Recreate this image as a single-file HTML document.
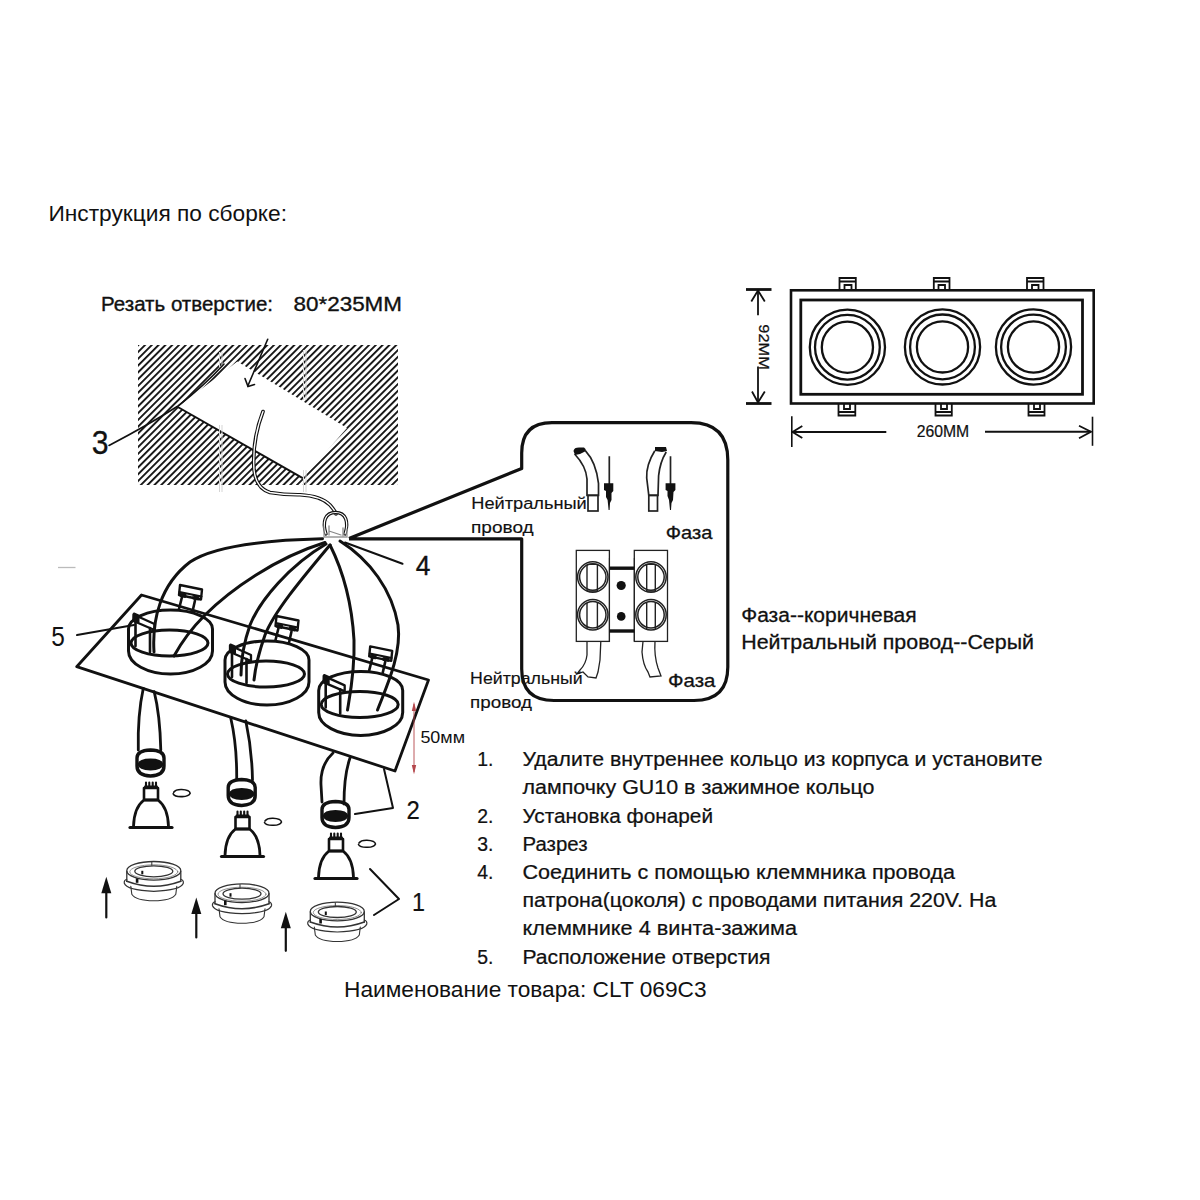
<!DOCTYPE html>
<html><head><meta charset="utf-8"><title>Инструкция</title>
<style>
html,body{margin:0;padding:0;background:#fff;}
body{width:1200px;height:1200px;overflow:hidden;}
svg{display:block;}
text{font-family:"Liberation Sans",sans-serif;fill:#111;}
</style></head><body>
<svg width="1200" height="1200" viewBox="0 0 1200 1200">
<defs>
<pattern id="hatch" patternUnits="userSpaceOnUse" width="4.8" height="20" patternTransform="rotate(45)">
<rect x="0" y="0" width="1.85" height="20" fill="#111"/>
</pattern>
<clipPath id="hclip"><rect x="138" y="345" width="260" height="140"/></clipPath>
</defs>
<rect width="1200" height="1200" fill="#fff"/>

<!-- ===== TEXTS ===== -->
<g id="texts">
<text x="48.5" y="221" font-size="22" textLength="238.5" lengthAdjust="spacingAndGlyphs">Инструкция по сборке:</text>
<text x="344" y="997.3" font-size="22" textLength="362.5" lengthAdjust="spacingAndGlyphs">Наименование товара: CLT 069C3</text>
<text x="101" y="310.8" font-size="20.5" textLength="172" lengthAdjust="spacingAndGlyphs" stroke="#111" stroke-width="0.35">Резать отверстие:</text>
<text x="293.5" y="310.8" font-size="20.5" textLength="108.5" lengthAdjust="spacingAndGlyphs" stroke="#111" stroke-width="0.35">80*235MM</text>
</g>

<!-- ===== HATCH + HOLE ===== -->
<g id="hatcharea">
<rect x="138" y="345" width="260" height="140" fill="url(#hatch)"/>
<polygon points="177.8,407 237.3,361.5 347,428 302.7,478.2" fill="#fff"/>
<line x1="177.8" y1="407" x2="302.7" y2="478.2" stroke="#111" stroke-width="2"/>
</g>



<g stroke="#d5d5d5" stroke-width="1" fill="none">
<path d="M219.5,352 L219.5,367 M222,352 L222,367"/>
<path d="M219.5,425 L219.5,492 M222,425 L222,492"/>
<path d="M303.5,350 L303.5,400 M306,350 L306,400"/>
<path d="M303.5,470 L303.5,492 M306,470 L306,492"/>
</g>
<line x1="58" y1="567.5" x2="75.5" y2="567.5" stroke="#bbb" stroke-width="1.3"/>
<!-- ===== hole annotations ===== -->
<g fill="none" stroke="#111" stroke-linecap="round">
<!-- arrow into hole -->
<path d="M267.7,339.3 L247.8,386" stroke-width="1.6"/>
<path d="M245,378.5 L248,386.5 L254.5,384.5" stroke-width="1.6"/>
<!-- label 3 pointer -->
<path d="M109,445.5 Q150,424 178,406 Q205,385 224,364" stroke-width="1.6"/>
<!-- wire from hole -->
<path id="holewire" d="M263,411.5 Q252,440 254,470 Q256,488 270,492.5 Q285,495 300,494.8 Q321,496 330,505 Q336,512 336,514" stroke="#111" stroke-width="3.6"/>
<path d="M263,411.5 Q252,440 254,470 Q256,488 270,492.5 Q285,495 300,494.8 Q321,496 330,505 Q336,512 336,514" stroke="#fff" stroke-width="1.4"/>
<!-- connector loop -->
<path d="M326,534 C322,522 325,512.5 335.5,512.5 C346,512.5 349,522 345,534" stroke-width="3.4"/>
<path d="M326,534 C322,522 325,512.5 335.5,512.5 C346,512.5 349,522 345,534" stroke="#fff" stroke-width="1.2"/>
<path d="M324,527 L324,537 L347,537 L347,529" stroke="#999" stroke-width="1.3"/>
<path d="M329,531 L341,535 M329,526 L329,535 M343,528 L343,536" stroke="#888" stroke-width="1.3"/>
</g>


<!-- ===== CALLOUT BOX ===== -->
<g fill="none" stroke="#111" stroke-linejoin="round">
<path d="M349,538.5 L521.7,468.5 L521.7,453 Q521.7,422.6 552,422.6 L691,422.6 Q727.8,422.6 727.8,460 L727.8,667 Q727.8,700.5 694,700.5 L554,700.5 Q521.7,700.5 521.7,669 L521.7,538.8 L349,538.8" stroke-width="3.2"/>
</g>
<!-- wires inside callout (top) -->
<g fill="none" stroke="#222" stroke-width="1.7">
<path d="M574.6,454 Q586,466 587,479 L587,495.3 L598.5,495.3 L598.5,483.3 Q596,462 585.5,450.8"/>
<rect x="588" y="495.3" width="10" height="15.7"/>
<path d="M654.8,450.8 Q646,465 646.7,478 L648.8,495.3 L658,495.3 L658.6,475.75 Q660,462 666.2,452"/>
<rect x="648.8" y="495.3" width="8.7" height="15.7"/>
<line x1="609.3" y1="456.25" x2="609.3" y2="484"/>
<line x1="670.5" y1="456.25" x2="670.5" y2="484"/>
</g>
<g fill="#111">
<path d="M573.5,451 Q574,447.6 579,447.6 L584,447.6 Q586,449 586,451 L580,454 L575,455 Z"/>
<path d="M655,447 L666,447 L667,451 L662,452 L655,451 Z"/>
<path d="M604,483.3 L613.3,483.3 L613.3,491 L611.5,493 L611.5,500 L610,503 L609.6,510 L608.6,510 L607.6,500 L606,497 L606,491 L604,490 Z"/>
<path d="M665.6,483.3 L675.4,483.3 L675.4,490 L673.5,492 L673,500 L671.5,503 L671,510 L670,510 L669,500 L667.5,496 L667.5,491 L665.6,490 Z"/>
</g>
<!-- terminal block -->
<g fill="none" stroke="#222" stroke-width="1.3">
<rect x="576.3" y="550.4" width="33.1" height="91"/>
<rect x="634.3" y="550.4" width="33.2" height="91"/>
<line x1="609.4" y1="558" x2="609.4" y2="641" stroke-width="1"/>
<line x1="634.3" y1="558" x2="634.3" y2="641" stroke-width="1"/>
<g stroke-width="1.5">
<circle cx="592.8" cy="577" r="15.2"/><circle cx="592.8" cy="577" r="13.2"/>
<circle cx="592.8" cy="614.8" r="15.2"/><circle cx="592.8" cy="614.8" r="13.2"/>
<circle cx="651" cy="577" r="15.2"/><circle cx="651" cy="577" r="13.2"/>
<circle cx="651" cy="614.8" r="15.2"/><circle cx="651" cy="614.8" r="13.2"/>
</g>
<path d="M587,564.4 L597.4,564.4 M587,564.4 L587,591 M597.4,564.4 L597.4,591 M587,591 L597.4,591 M587,603 L587,629 M597.4,603 L597.4,629 M646.7,564.4 L655.3,564.4 M646.7,564.4 L646.7,591 M655.3,564.4 L655.3,591 M646.7,591 L655.3,591 M646.7,603 L646.7,629 M655.3,603 L655.3,629" stroke-width="1.4"/>
<!-- wires below block -->
<path d="M587,641.4 L587,655 Q586,664 580,670 L577,674 L583,672 L588,677 L596,678 L598,672 L600,660 L600.8,641.4" stroke-width="1.3"/>
<path d="M643,641.4 L642,652 Q643,665 648,672 L650,677 L661,676 L658,668 Q654,656 655,641.4" stroke-width="1.3"/>
</g>
<g fill="#111">
<rect x="609.4" y="566.5" width="24.9" height="3.4"/>
<rect x="609.4" y="629.3" width="24.9" height="3.4"/>
<circle cx="621.2" cy="585.5" r="4.6"/>
<circle cx="621.2" cy="616.4" r="4.3"/>
</g>


<g id="texts2">
<text x="471.3" y="509" font-size="16" textLength="115.5" lengthAdjust="spacingAndGlyphs" fill="#1a1a1a" stroke="#1a1a1a" stroke-width="0.15">Нейтральный</text>
<text x="471" y="532.9" font-size="16" textLength="62.7" lengthAdjust="spacingAndGlyphs" fill="#1a1a1a" stroke="#1a1a1a" stroke-width="0.15">провод</text>
<text x="665.8" y="539.4" font-size="18.5" textLength="46.6" lengthAdjust="spacingAndGlyphs" stroke="#111" stroke-width="0.3">Фаза</text>
<text x="470.1" y="684" font-size="16" textLength="112.5" lengthAdjust="spacingAndGlyphs" fill="#1a1a1a" stroke="#1a1a1a" stroke-width="0.15">Нейтральный</text>
<text x="470" y="707.6" font-size="16" textLength="62" lengthAdjust="spacingAndGlyphs" fill="#1a1a1a" stroke="#1a1a1a" stroke-width="0.15">провод</text>
<text x="668" y="687.4" font-size="18.5" textLength="47.4" lengthAdjust="spacingAndGlyphs" stroke="#111" stroke-width="0.3">Фаза</text>
<text x="741.2" y="621.8" font-size="19.6" textLength="175.5" lengthAdjust="spacingAndGlyphs" stroke="#111" stroke-width="0.28">Фаза--коричневая</text>
<text x="741.2" y="648.5" font-size="19.6" textLength="292.8" lengthAdjust="spacingAndGlyphs" stroke="#111" stroke-width="0.28">Нейтральный  провод--Серый</text>
<text x="477.3" y="766.1" font-size="19.4" stroke="#111" stroke-width="0.22">1.</text>
<text x="522.5" y="766.1" font-size="19.4" textLength="520.0" lengthAdjust="spacingAndGlyphs" stroke="#111" stroke-width="0.22">Удалите внутреннее кольцо из корпуса и установите</text>
<text x="522.5" y="794.3" font-size="19.4" textLength="352.0" lengthAdjust="spacingAndGlyphs" stroke="#111" stroke-width="0.22">лампочку GU10 в зажимное кольцо</text>
<text x="477.3" y="822.5" font-size="19.4" stroke="#111" stroke-width="0.22">2.</text>
<text x="522.5" y="822.5" font-size="19.4" textLength="190.5" lengthAdjust="spacingAndGlyphs" stroke="#111" stroke-width="0.22">Установка фонарей</text>
<text x="477.3" y="850.7" font-size="19.4" stroke="#111" stroke-width="0.22">3.</text>
<text x="522.5" y="850.7" font-size="19.4" textLength="65.0" lengthAdjust="spacingAndGlyphs" stroke="#111" stroke-width="0.22">Разрез</text>
<text x="477.3" y="878.9" font-size="19.4" stroke="#111" stroke-width="0.22">4.</text>
<text x="522.5" y="878.9" font-size="19.4" textLength="432.5" lengthAdjust="spacingAndGlyphs" stroke="#111" stroke-width="0.22">Соединить с помощью клеммника провода</text>
<text x="522.5" y="907.1" font-size="19.4" textLength="473.8" lengthAdjust="spacingAndGlyphs" stroke="#111" stroke-width="0.22">патрона(цоколя) с проводами питания 220V. На</text>
<text x="522.5" y="935.3" font-size="19.4" textLength="274.5" lengthAdjust="spacingAndGlyphs" stroke="#111" stroke-width="0.22">клеммнике 4 винта-зажима</text>
<text x="477.3" y="963.5" font-size="19.4" stroke="#111" stroke-width="0.22">5.</text>
<text x="522.5" y="963.5" font-size="19.4" textLength="248.0" lengthAdjust="spacingAndGlyphs" stroke="#111" stroke-width="0.22">Расположение отверстия</text>
<text x="91.8" y="454.2" font-size="33.5" textLength="16.8" lengthAdjust="spacingAndGlyphs" stroke="#111" stroke-width="0.3">3</text>
<text x="415.8" y="574.8" font-size="27" textLength="14.7" lengthAdjust="spacingAndGlyphs" stroke="#111" stroke-width="0.35">4</text>
<text x="51.2" y="645.6" font-size="27" textLength="13.6" lengthAdjust="spacingAndGlyphs">5</text>
<text x="406.5" y="819.4" font-size="26.5" textLength="13.3" lengthAdjust="spacingAndGlyphs" stroke="#111" stroke-width="0.2">2</text>
<text x="412" y="910.6" font-size="26.5" textLength="13" lengthAdjust="spacingAndGlyphs" stroke="#111" stroke-width="0.2">1</text>
<text x="420.4" y="742.5" font-size="17" textLength="44.6" lengthAdjust="spacingAndGlyphs">50мм</text>
<text x="916.7" y="437" font-size="16.3" textLength="52.5" lengthAdjust="spacingAndGlyphs" stroke="#111" stroke-width="0.2">260MM</text>
<text x="0" y="0" font-size="15.5" textLength="45.5" lengthAdjust="spacingAndGlyphs" stroke="#111" stroke-width="0.25" transform="translate(758.5,324.3) rotate(90)">92MM</text>
</g>


<!-- ===== TOP RIGHT FRAME ===== -->
<g fill="none" stroke="#111">
<rect x="791" y="290.3" width="302.7" height="113.2" stroke-width="2.6"/>
<rect x="800.8" y="300" width="281.7" height="94.3" stroke-width="2.8"/>
<g stroke-width="2.3">
<circle cx="847.4" cy="347.2" r="37.6"/><circle cx="847.4" cy="347.2" r="32.4"/><circle cx="847.4" cy="347.2" r="25.6"/>
<circle cx="942.5" cy="346.9" r="37.6"/><circle cx="942.5" cy="346.9" r="32.4"/><circle cx="942.5" cy="346.9" r="25.6"/>
<circle cx="1033.5" cy="347" r="37.6"/><circle cx="1033.5" cy="347" r="32.4"/><circle cx="1033.5" cy="347" r="25.6"/>
</g>
<!-- clips top -->
<g stroke-width="1.8">
<path d="M839.5,290 L839.5,278 L855.8,278 L855.8,290 M839.5,281.5 L855.8,281.5 M844.5,290 L844.5,285 L851.5,285 L851.5,290"/>
<path d="M933.8,290 L933.8,278 L949.5,278 L949.5,290 M933.8,281.5 L949.5,281.5 M938.5,290 L938.5,285 L945,285 L945,290"/>
<path d="M1027,290 L1027,278 L1043.5,278 L1043.5,290 M1027,281.5 L1043.5,281.5 M1032,290 L1032,285 L1038.5,285 L1038.5,290"/>
<!-- clips bottom -->
<path d="M838.5,404 L838.5,415.5 L855.3,415.5 L855.3,404 M838.5,412 L855.3,412 M844,404 L844,409 L850,409 L850,404"/>
<path d="M935.5,404 L935.5,415.5 L951.8,415.5 L951.8,404 M935.5,412 L951.8,412 M941,404 L941,409 L947,409 L947,404"/>
<path d="M1028.5,404 L1028.5,415.5 L1044.5,415.5 L1044.5,404 M1028.5,412 L1044.5,412 M1034,404 L1034,409 L1040,409 L1040,404"/>
</g>
<!-- dims -->
<g stroke-width="1.8">
<line x1="746" y1="289.5" x2="771.5" y2="289.5" stroke-width="2.8"/>
<line x1="746" y1="403.5" x2="771.5" y2="403.5" stroke-width="2.8"/>
<line x1="758" y1="290" x2="758" y2="315.3"/>
<line x1="758" y1="366.5" x2="758" y2="403"/>
<path d="M751.3,301.5 L758,290.5 L764.8,301.5"/>
<path d="M752,391.5 L758,402.5 L764.8,391.5"/>
<line x1="791.8" y1="416.3" x2="791.8" y2="447" stroke-width="1.6"/>
<line x1="1092.5" y1="416.7" x2="1092.5" y2="445.8" stroke-width="1.6"/>
<line x1="792" y1="432" x2="886.3" y2="432" stroke-width="1.9"/>
<line x1="985" y1="431.7" x2="1091" y2="431.7" stroke-width="1.9"/>
<path d="M802.3,426 L792.5,432 L802.3,438" stroke-width="1.8"/>
<path d="M1079,425.8 L1091,431.7 L1079,438.3" stroke-width="1.8"/>
</g>
</g>


<!-- ===== PLATE ===== -->
<g fill="none" stroke="#111" stroke-linejoin="round" stroke-linecap="round">
<path d="M141.5,595 L428.5,680 L395,771 L76.7,666.7 Z" stroke-width="2.8"/>
<g transform="translate(170.5,610)">
<path d="M-42,19 A42,19 0 0 1 42,19 L42,41 A42,23 0 0 1 -42,41 Z" stroke-width="3"/>
<ellipse cx="-1" cy="33" rx="38.5" ry="13" stroke-width="3"/>
<!-- back clip -->
<path d="M11.5,-13 L8.5,-1 M24.5,-9.5 L22,1.5" stroke-width="2.6"/>
<path d="M9.5,-25 L31.5,-20.5 L30.5,-10.5 L8.5,-15 Z" stroke-width="2.4"/>
<path d="M9,-18 L31,-13.5" stroke-width="2"/>
<path d="M10.5,-17 L15.5,-16 L15,-12.5 L10,-13.5 Z M23,-14.5 L28.5,-13.5 L28,-10 L22.5,-11 Z" fill="#111" stroke-width="1"/>
<!-- left clip -->
<path d="M-37,4.5 L-16,14 L-16,20 L-37,11 Z" stroke-width="2.3"/>
<path d="M-36.5,3.5 L-32,5.5 L-32,12 L-37,10 Z" fill="#111" stroke-width="2"/>
<path d="M-35,10 L-35,36 M-20.5,18 L-20.5,42" stroke-width="2.6"/>
</g>
<g transform="translate(267,641)">
<path d="M-42,19 A42,19 0 0 1 42,19 L42,41 A42,23 0 0 1 -42,41 Z" stroke-width="3"/>
<ellipse cx="-1" cy="33" rx="38.5" ry="13" stroke-width="3"/>
<!-- back clip -->
<path d="M11.5,-13 L8.5,-1 M24.5,-9.5 L22,1.5" stroke-width="2.6"/>
<path d="M9.5,-25 L31.5,-20.5 L30.5,-10.5 L8.5,-15 Z" stroke-width="2.4"/>
<path d="M9,-18 L31,-13.5" stroke-width="2"/>
<path d="M10.5,-17 L15.5,-16 L15,-12.5 L10,-13.5 Z M23,-14.5 L28.5,-13.5 L28,-10 L22.5,-11 Z" fill="#111" stroke-width="1"/>
<!-- left clip -->
<path d="M-37,4.5 L-16,14 L-16,20 L-37,11 Z" stroke-width="2.3"/>
<path d="M-36.5,3.5 L-32,5.5 L-32,12 L-37,10 Z" fill="#111" stroke-width="2"/>
<path d="M-35,10 L-35,36 M-20.5,18 L-20.5,42" stroke-width="2.6"/>
</g>
<g transform="translate(360.7,671.4)">
<path d="M-42,19 A42,19 0 0 1 42,19 L42,41 A42,23 0 0 1 -42,41 Z" stroke-width="3"/>
<ellipse cx="-1" cy="33" rx="38.5" ry="13" stroke-width="3"/>
<!-- back clip -->
<path d="M11.5,-13 L8.5,-1 M24.5,-9.5 L22,1.5" stroke-width="2.6"/>
<path d="M9.5,-25 L31.5,-20.5 L30.5,-10.5 L8.5,-15 Z" stroke-width="2.4"/>
<path d="M9,-18 L31,-13.5" stroke-width="2"/>
<path d="M10.5,-17 L15.5,-16 L15,-12.5 L10,-13.5 Z M23,-14.5 L28.5,-13.5 L28,-10 L22.5,-11 Z" fill="#111" stroke-width="1"/>
<!-- left clip -->
<path d="M-37,4.5 L-16,14 L-16,20 L-37,11 Z" stroke-width="2.3"/>
<path d="M-36.5,3.5 L-32,5.5 L-32,12 L-37,10 Z" fill="#111" stroke-width="2"/>
<path d="M-35,10 L-35,36 M-20.5,18 L-20.5,42" stroke-width="2.6"/>
</g>

<!-- wires -->
<g stroke-width="3">
<path d="M322.5,538.8 C270,540 215,545 190,562 C160,585 152,620 154,652"/>
<path d="M325,542.5 C275,558 230,590 205,615 C188,632 180,645 174,656"/>
<path d="M326,544 C290,565 260,600 250,625 C242,648 241,665 241,675"/>
<path d="M330,545 C305,575 275,610 265,635 C258,655 255,670 254,680"/>
<path d="M330,545 C345,575 352,605 354,640 C355,670 350,695 347.5,710"/>
<path d="M340,541 C370,560 392,590 398,625 C402,655 385,690 377.5,710"/>
</g>
<!-- pointers 4,5 -->
<path d="M345,542.5 L402.5,563.8" stroke-width="2"/>
<path d="M77,635 L134,625" stroke-width="2"/>
<!-- callout lines -->
</g>


<!-- ===== SOCKETS / BULBS ===== -->
<g fill="none" stroke="#111" stroke-linejoin="round" stroke-linecap="round">
<!-- cables -->
<path d="M143.3,688.3 Q137.5,715 138.3,750" stroke-width="2.8"/>
<path d="M154.2,691.7 Q160,715 160.8,750" stroke-width="2.8"/>
<path d="M230.8,718.3 Q237,745 236.7,780" stroke-width="2.8"/>
<path d="M245.8,720.8 Q252,750 252.5,780" stroke-width="2.8"/>
<path d="M333,753 Q320,765 321,785 L322,802" stroke-width="2.8"/>
<path d="M350,758 Q344,775 344,804" stroke-width="2.8"/>
<g transform="translate(150.5,749)">
<path d="M-13.5,9 Q-13.5,1.5 0,1 Q13.5,1.5 13.5,9 L13.5,17 Q13.5,26.5 0,27 Q-13.5,26.5 -13.5,17 Z" stroke-width="3.4"/>
<path d="M-13,15.5 Q-12,9.5 0,9.5 Q12,9.5 13,15.5 Q12,21 0,21.5 Q-12,21 -13,15.5 Z" fill="#111" stroke="none"/>
</g>
<g transform="translate(241.7,778.5)">
<path d="M-13.5,9 Q-13.5,1.5 0,1 Q13.5,1.5 13.5,9 L13.5,17 Q13.5,26.5 0,27 Q-13.5,26.5 -13.5,17 Z" stroke-width="3.4"/>
<path d="M-13,15.5 Q-12,9.5 0,9.5 Q12,9.5 13,15.5 Q12,21 0,21.5 Q-12,21 -13,15.5 Z" fill="#111" stroke="none"/>
</g>
<g transform="translate(335.5,800.5)">
<path d="M-13.5,9 Q-13.5,1.5 0,1 Q13.5,1.5 13.5,9 L13.5,17 Q13.5,26.5 0,27 Q-13.5,26.5 -13.5,17 Z" stroke-width="3.4"/>
<path d="M-13,15.5 Q-12,9.5 0,9.5 Q12,9.5 13,15.5 Q12,21 0,21.5 Q-12,21 -13,15.5 Z" fill="#111" stroke="none"/>
</g>
<g transform="translate(151,827.5)">
<path d="M-21,0 L21,0" stroke-width="3.2"/>
<path d="M-17.5,-1 Q-17,-20 -7,-27.5 L7,-27.5 Q17,-20 17.5,-1" stroke-width="2.8"/>
<rect x="-7" y="-39.5" width="14" height="12" stroke-width="2.6"/>
<path d="M-5,-40 L-5,-45 M-1.7,-40 L-1.7,-45 M1.7,-40 L1.7,-45 M5,-40 L5,-45" stroke-width="2.1"/>
<path d="M-6,-41 L6,-41" stroke-width="2"/>
</g>
<g transform="translate(242.5,856.5)">
<path d="M-21,0 L21,0" stroke-width="3.2"/>
<path d="M-17.5,-1 Q-17,-20 -7,-27.5 L7,-27.5 Q17,-20 17.5,-1" stroke-width="2.8"/>
<rect x="-7" y="-39.5" width="14" height="12" stroke-width="2.6"/>
<path d="M-5,-40 L-5,-45 M-1.7,-40 L-1.7,-45 M1.7,-40 L1.7,-45 M5,-40 L5,-45" stroke-width="2.1"/>
<path d="M-6,-41 L6,-41" stroke-width="2"/>
</g>
<g transform="translate(336,878.5)">
<path d="M-21,0 L21,0" stroke-width="3.2"/>
<path d="M-17.5,-1 Q-17,-20 -7,-27.5 L7,-27.5 Q17,-20 17.5,-1" stroke-width="2.8"/>
<rect x="-7" y="-39.5" width="14" height="12" stroke-width="2.6"/>
<path d="M-5,-40 L-5,-45 M-1.7,-40 L-1.7,-45 M1.7,-40 L1.7,-45 M5,-40 L5,-45" stroke-width="2.1"/>
<path d="M-6,-41 L6,-41" stroke-width="2"/>
</g>
<path d="M173.7,792.3 Q175.7,789.3 181.7,789.5 Q189.7,789.8 190.2,793.3 Q188.7,796.8 181.7,796.5999999999999 Q174.7,796.8 173.2,793.8" stroke-width="1.6"/>
<path d="M265,821 Q267,818 273,818.2 Q281,818.5 281.5,822 Q280,825.5 273,825.3 Q266,825.5 264.5,822.5" stroke-width="1.6"/>
<path d="M359,843 Q361,840 367,840.2 Q375,840.5 375.5,844 Q374,847.5 367,847.3 Q360,847.5 358.5,844.5" stroke-width="1.6"/>
<g transform="translate(153.8,861.3)" stroke="#333">
<ellipse cx="0" cy="9.5" rx="27" ry="9.3" stroke-width="1.3"/>
<ellipse cx="0" cy="10.5" rx="24" ry="7" stroke-width="0.8" stroke="#777"/>
<ellipse cx="0" cy="10" rx="19" ry="5.5" stroke-width="1.3"/>
<path d="M-27,10 L-27,20 M27,10 L27,20" stroke-width="1.3"/>
<path d="M-27,18 Q-30,19 -29.5,22 Q-27,29 0,30 Q27,29 29.5,22 Q30,19 27,18" stroke-width="1.2"/>
<path d="M-27,20 Q0,30 27,20" stroke-width="1.6"/>
<path d="M-23,25 L-22,33 Q-18,39.5 0,39.5 Q18,39.5 22,33 L23,25" stroke-width="1.1"/>
<rect x="-12.5" y="9.5" width="2" height="3.5" fill="#111" stroke="none"/>
<rect x="-18" y="17" width="2.6" height="4.5" fill="#111" stroke="none"/>
<path d="M-2,1 L-2,4" stroke-width="1"/>
</g>
<g transform="translate(242,883.7)" stroke="#333">
<ellipse cx="0" cy="9.5" rx="27" ry="9.3" stroke-width="1.3"/>
<ellipse cx="0" cy="10.5" rx="24" ry="7" stroke-width="0.8" stroke="#777"/>
<ellipse cx="0" cy="10" rx="19" ry="5.5" stroke-width="1.3"/>
<path d="M-27,10 L-27,20 M27,10 L27,20" stroke-width="1.3"/>
<path d="M-27,18 Q-30,19 -29.5,22 Q-27,29 0,30 Q27,29 29.5,22 Q30,19 27,18" stroke-width="1.2"/>
<path d="M-27,20 Q0,30 27,20" stroke-width="1.6"/>
<path d="M-23,25 L-22,33 Q-18,39.5 0,39.5 Q18,39.5 22,33 L23,25" stroke-width="1.1"/>
<rect x="-12.5" y="9.5" width="2" height="3.5" fill="#111" stroke="none"/>
<rect x="-18" y="17" width="2.6" height="4.5" fill="#111" stroke="none"/>
<path d="M-2,1 L-2,4" stroke-width="1"/>
</g>
<g transform="translate(337.3,902)" stroke="#333">
<ellipse cx="0" cy="9.5" rx="27" ry="9.3" stroke-width="1.3"/>
<ellipse cx="0" cy="10.5" rx="24" ry="7" stroke-width="0.8" stroke="#777"/>
<ellipse cx="0" cy="10" rx="19" ry="5.5" stroke-width="1.3"/>
<path d="M-27,10 L-27,20 M27,10 L27,20" stroke-width="1.3"/>
<path d="M-27,18 Q-30,19 -29.5,22 Q-27,29 0,30 Q27,29 29.5,22 Q30,19 27,18" stroke-width="1.2"/>
<path d="M-27,20 Q0,30 27,20" stroke-width="1.6"/>
<path d="M-23,25 L-22,33 Q-18,39.5 0,39.5 Q18,39.5 22,33 L23,25" stroke-width="1.1"/>
<rect x="-12.5" y="9.5" width="2" height="3.5" fill="#111" stroke="none"/>
<rect x="-18" y="17" width="2.6" height="4.5" fill="#111" stroke="none"/>
<path d="M-2,1 L-2,4" stroke-width="1"/>
</g>
<path d="M106.3,891.7 L106.3,917.5" stroke-width="2.2"/><path d="M101.3,893.2 L106.3,876.7 L111.3,893.2 Z" fill="#111" stroke="none"/>
<path d="M196.3,912.5 L196.3,937.5" stroke-width="2.2"/><path d="M191.3,914.0 L196.3,897.5 L201.3,914.0 Z" fill="#111" stroke="none"/>
<path d="M285.8,926.7 L285.8,950.8" stroke-width="2.2"/><path d="M280.8,928.2 L285.8,911.7 L290.8,928.2 Z" fill="#111" stroke="none"/>

<!-- pointers 2, 1 -->
<path d="M355,814 L393,808 L384,769" stroke-width="2"/>
<path d="M370,869 L399,899 L374,915" stroke-width="2"/>
</g>
<!-- red dimension arrow -->
<g stroke="#b4464b" fill="#b4464b">
<line x1="414" y1="704" x2="414" y2="772" stroke-width="0.9"/>
<path d="M411.8,711 L414,701.7 L416.2,711 Z" stroke="none"/>
<path d="M411.8,765 L414,774.2 L416.2,765 Z" stroke="none"/>
</g>

</svg>
</body></html>
